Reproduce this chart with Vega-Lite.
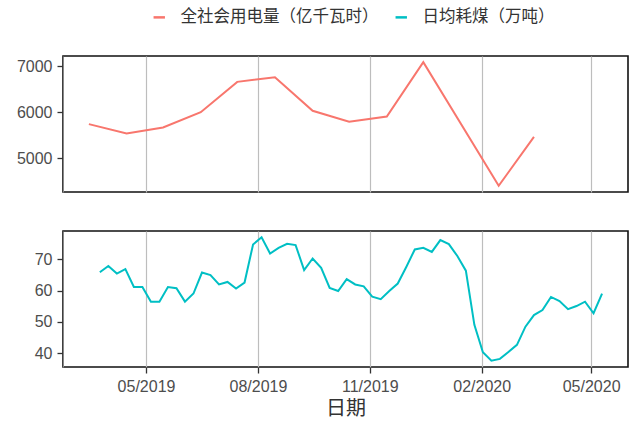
{
  "$schema": "https://vega.github.io/schema/vega-lite/v6.json",
  "padding": {"left": 15, "top": 9, "right": 10, "bottom": 2},
  "datasets": {
    "elec": [
      {"date": "2019-03-15", "value": 5740},
      {"date": "2019-04-15", "value": 5537},
      {"date": "2019-05-15", "value": 5667},
      {"date": "2019-06-15", "value": 6000},
      {"date": "2019-07-15", "value": 6659},
      {"date": "2019-08-15", "value": 6761},
      {"date": "2019-09-15", "value": 6029},
      {"date": "2019-10-15", "value": 5790},
      {"date": "2019-11-15", "value": 5906},
      {"date": "2019-12-15", "value": 7087},
      {"date": "2020-02-15", "value": 4398},
      {"date": "2020-03-15", "value": 5464}
    ],
    "coal": [
      {"date": "2019-03-24", "value": 65.9},
      {"date": "2019-03-31", "value": 67.9},
      {"date": "2019-04-07", "value": 65.5},
      {"date": "2019-04-14", "value": 66.9},
      {"date": "2019-04-21", "value": 61.2},
      {"date": "2019-04-28", "value": 61.2},
      {"date": "2019-05-05", "value": 56.5},
      {"date": "2019-05-12", "value": 56.5},
      {"date": "2019-05-19", "value": 61.2},
      {"date": "2019-05-26", "value": 60.8},
      {"date": "2019-06-02", "value": 56.5},
      {"date": "2019-06-09", "value": 59.1},
      {"date": "2019-06-16", "value": 65.8},
      {"date": "2019-06-23", "value": 65.0},
      {"date": "2019-06-30", "value": 62.0},
      {"date": "2019-07-07", "value": 62.8},
      {"date": "2019-07-14", "value": 60.7},
      {"date": "2019-07-21", "value": 62.6},
      {"date": "2019-07-28", "value": 74.8},
      {"date": "2019-08-04", "value": 77.1},
      {"date": "2019-08-11", "value": 71.9},
      {"date": "2019-08-18", "value": 73.7},
      {"date": "2019-08-25", "value": 75.0},
      {"date": "2019-09-01", "value": 74.6},
      {"date": "2019-09-08", "value": 66.6},
      {"date": "2019-09-15", "value": 70.3},
      {"date": "2019-09-22", "value": 67.3},
      {"date": "2019-09-29", "value": 60.9},
      {"date": "2019-10-06", "value": 59.9},
      {"date": "2019-10-13", "value": 63.7},
      {"date": "2019-10-20", "value": 62.0},
      {"date": "2019-10-27", "value": 61.4},
      {"date": "2019-11-03", "value": 58.1},
      {"date": "2019-11-10", "value": 57.3},
      {"date": "2019-11-17", "value": 59.9},
      {"date": "2019-11-24", "value": 62.3},
      {"date": "2019-12-01", "value": 67.6},
      {"date": "2019-12-08", "value": 73.2},
      {"date": "2019-12-15", "value": 73.7},
      {"date": "2019-12-22", "value": 72.4},
      {"date": "2019-12-29", "value": 76.2},
      {"date": "2020-01-05", "value": 74.9},
      {"date": "2020-01-12", "value": 71.1},
      {"date": "2020-01-19", "value": 66.4},
      {"date": "2020-01-26", "value": 49.1},
      {"date": "2020-02-02", "value": 40.3},
      {"date": "2020-02-09", "value": 37.6},
      {"date": "2020-02-16", "value": 38.2},
      {"date": "2020-02-23", "value": 40.4},
      {"date": "2020-03-01", "value": 42.7},
      {"date": "2020-03-08", "value": 48.5},
      {"date": "2020-03-15", "value": 52.2},
      {"date": "2020-03-22", "value": 53.8},
      {"date": "2020-03-29", "value": 58.0},
      {"date": "2020-04-05", "value": 56.7},
      {"date": "2020-04-12", "value": 54.1},
      {"date": "2020-04-19", "value": 55.1},
      {"date": "2020-04-26", "value": 56.5},
      {"date": "2020-05-03", "value": 52.8},
      {"date": "2020-05-10", "value": 59.1}
    ]
  },
  "vconcat": [
    {
      "width": 565,
      "height": 136,
      "data": {"name": "elec"},
      "mark": {"type": "line", "strokeWidth": 2},
      "encoding": {
        "x": {
          "field": "date", "type": "temporal",
          "scale": {"type": "utc", "domain": [{"year": 2019, "month": 2, "date": 21, "hours": 17, "utc": true}, {"year": 2020, "month": 5, "date": 31, "hours": 8, "utc": true}]},
          "axis": {"title": null, "labels": false, "ticks": false, "domain": false, "grid": true,
            "values": [{"year": 2019, "month": 5, "date": 1, "utc": true}, {"year": 2019, "month": 8, "date": 1, "utc": true}, {"year": 2019, "month": 11, "date": 1, "utc": true}, {"year": 2020, "month": 2, "date": 1, "utc": true}, {"year": 2020, "month": 5, "date": 1, "utc": true}]}
        },
        "y": {
          "field": "value", "type": "quantitative",
          "scale": {"domain": [4263, 7222], "nice": false, "zero": false},
          "axis": {"title": null, "values": [5000, 6000, 7000], "format": "d", "grid": false}
        },
        "color": {
          "datum": "全社会用电量（亿千瓦时）", "type": "nominal",
          "scale": {"domain": ["全社会用电量（亿千瓦时）", "日均耗煤（万吨）"], "range": ["#F8766D", "#00BFC4"]},
          "legend": {"orient": "none", "legendX": 88, "legendY": -47, "direction": "horizontal", "columns": 2, "title": null,
            "symbolType": "stroke", "symbolSize": 130, "symbolStrokeWidth": 2.5, "labelLimit": 0,
            "labelFont": "Noto Sans CJK SC", "labelFontSize": 16.5, "labelColor": "#333333", "labelOffset": 13, "columnPadding": 11}
        }
      }
    },
    {
      "width": 565,
      "height": 136,
      "data": {"name": "coal"},
      "mark": {"type": "line", "strokeWidth": 2},
      "encoding": {
        "x": {
          "field": "date", "type": "temporal",
          "scale": {"type": "utc", "domain": [{"year": 2019, "month": 2, "date": 21, "hours": 17, "utc": true}, {"year": 2020, "month": 5, "date": 31, "hours": 8, "utc": true}]},
          "axis": {"title": "日期", "labelExpr": "utcFormat(datum.value, '%m/%Y')", "grid": true, "domain": false,
            "values": [{"year": 2019, "month": 5, "date": 1, "utc": true}, {"year": 2019, "month": 8, "date": 1, "utc": true}, {"year": 2019, "month": 11, "date": 1, "utc": true}, {"year": 2020, "month": 2, "date": 1, "utc": true}, {"year": 2020, "month": 5, "date": 1, "utc": true}],
            "titleFont": "Noto Sans CJK SC", "titleFontSize": 20, "titleFontWeight": "normal", "titleColor": "#333333", "titlePadding": 4}
        },
        "y": {
          "field": "value", "type": "quantitative",
          "scale": {"domain": [35.6, 79.1], "nice": false, "zero": false},
          "axis": {"title": null, "values": [40, 50, 60, 70], "grid": false}
        },
        "color": {
          "datum": "日均耗煤（万吨）", "type": "nominal",
          "scale": {"domain": ["全社会用电量（亿千瓦时）", "日均耗煤（万吨）"], "range": ["#F8766D", "#00BFC4"]},
          "legend": {"orient": "none", "legendX": 88, "legendY": -47, "direction": "horizontal", "columns": 2, "title": null,
            "symbolType": "stroke", "symbolSize": 130, "symbolStrokeWidth": 2.5, "labelLimit": 0,
            "labelFont": "Noto Sans CJK SC", "labelFontSize": 16.5, "labelColor": "#333333", "labelOffset": 13, "columnPadding": 11}
        }
      }
    }
  ],
  "spacing": 39,
  "bounds": "flush",
  "resolve": {"scale": {"color": "shared"}},
  "config": {
    "view": {"stroke": "#111111", "strokeWidth": 1.6},
    "axis": {"labelFont": "Liberation Sans", "labelFontSize": 16, "labelColor": "#4D4D4D", "tickColor": "#333333", "tickSize": 6, "tickWidth": 1.3, "labelPadding": 5, "gridColor": "#BDBDBD", "gridWidth": 1.2}
  }
}
